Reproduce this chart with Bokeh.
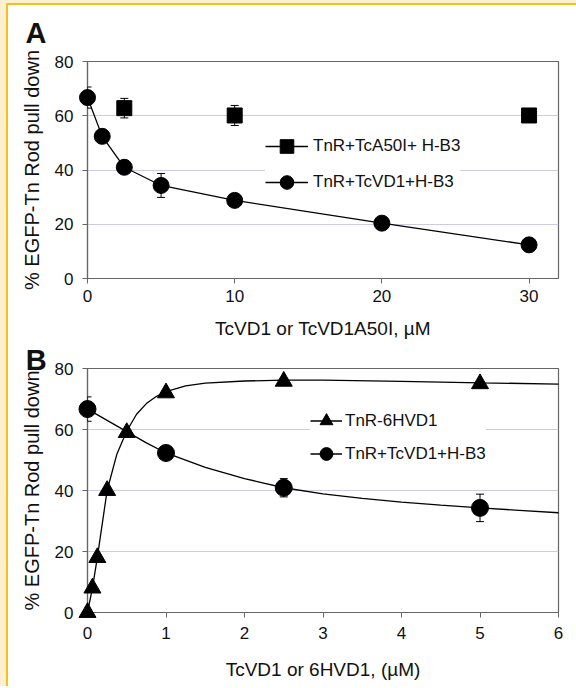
from bokeh.plotting import figure
from bokeh.models import (ColumnDataSource, Whisker, TeeHead, Legend, LegendItem,
                          Range1d, FixedTicker, Div)
from bokeh.layouts import column, row
from bokeh.core.properties import value
from bokeh.embed import file_html
from bokeh.resources import INLINE

# ---------------- data: panel A ----------------
a_xticks = [0, 10, 20, 30]
a_yticks = [0, 20, 40, 60, 80]
a_vd1_x = [0, 1, 2.5, 5, 10, 20, 30]
a_vd1_y = [66.7, 52.4, 41.0, 34.3, 28.8, 20.4, 12.4]
a_vd1_err = [3.9, 1.0, 1.2, 4.4, 1.0, 0.8, 0.8]
a_a50i_x = [2.5, 10, 30]
a_a50i_y = [62.8, 60.1, 60.1]
a_a50i_err = [3.6, 3.7, 1.5]

# ---------------- data: panel B ----------------
b_xticks = [0, 1, 2, 3, 4, 5, 6]
b_yticks = [0, 20, 40, 60, 80]
b_6h_x = [0, 0.0625, 0.125, 0.25, 0.5, 1, 2.5, 5]
b_6h_y = [0, 8, 18, 40, 59, 72, 75.8, 75]
b_vd1_x = [0, 1, 2.5, 5]
b_vd1_y = [66.7, 52.3, 40.9, 34.3]
b_vd1_err = [4.0, 1.0, 3.0, 4.5]
# fitted curves
b_6h_fit_x = [0, 0.0625, 0.125, 0.25, 0.375, 0.5, 0.625, 0.75, 0.875, 1, 1.25, 1.5, 2, 2.5, 3, 4, 5, 6]
b_6h_fit_y = [0, 8, 18, 40, 52, 59.5, 65, 68.5, 70.8, 72.4, 74.3, 75.2, 75.9, 76.2, 76.2, 75.8, 75.3, 74.9]
b_vd1_fit_x = [0, 0.25, 0.5, 0.75, 1, 1.5, 2, 2.5, 3, 3.5, 4, 4.5, 5, 5.5, 6]
b_vd1_fit_y = [66.7, 63.0, 59.3, 55.6, 52.3, 47.6, 43.9, 40.9, 38.9, 37.4, 36.2, 35.2, 34.3, 33.5, 32.7]

label_sq = "TnR+TcA50I+ H-B3"
label_circ = "TnR+TcVD1+H-B3"
label_tri = "TnR-6HVD1"

FONT = "Liberation Sans"
GOLD = "#F5C21B"
CREAM = "#FDF0D2"
GRID = "#CBCBE4"
AXIS = "#666666"
INK = "#111111"

# frame geometry in page pixels (used only to place the panel letters)
A_FRAME = dict(left=87, right=558, top=61, bottom=278, x0=0, x1=32, y0=0, y1=80)
B_FRAME = dict(left=87, right=559, top=368, bottom=612, x0=0, x1=6, y0=0, y1=80)


def px2data(f, px, py):
    x = f["x0"] + (px - f["left"]) * (f["x1"] - f["x0"]) / (f["right"] - f["left"])
    y = f["y0"] + (f["bottom"] - py) * (f["y1"] - f["y0"]) / (f["bottom"] - f["top"])
    return x, y


def style(p, xticks, yticks, xlabel, ylabel):
    p.outline_line_color = AXIS
    p.outline_line_width = 1.2
    p.background_fill_color = "white"
    p.border_fill_color = "white"
    p.xgrid.grid_line_color = None
    p.ygrid.grid_line_color = GRID
    p.ygrid.grid_line_width = 1.2
    p.ygrid.ticker = FixedTicker(ticks=yticks)
    p.xaxis.ticker = FixedTicker(ticks=xticks)
    p.yaxis.ticker = FixedTicker(ticks=yticks)
    p.xaxis.axis_label = xlabel
    p.yaxis.axis_label = ylabel
    for ax in (p.xaxis[0], p.yaxis[0]):
        ax.axis_line_color = AXIS
        ax.axis_line_width = 1.2
        ax.major_tick_line_color = AXIS
        ax.major_tick_in = 0
        ax.major_tick_out = 5
        ax.minor_tick_line_color = None
        ax.major_label_text_font = FONT
        ax.major_label_text_font_size = "17px"
        ax.major_label_text_color = INK
        ax.axis_label_text_font = FONT
        ax.axis_label_text_font_style = "normal"
        ax.axis_label_text_color = INK
    p.xaxis.axis_label_text_font_size = "19px"
    p.yaxis.axis_label_text_font_size = "20px"
    p.yaxis.major_label_standoff = 9
    p.yaxis.axis_label_standoff = 9


def panel_letter(p, f, letter, px, py):
    x, y = px2data(f, px, py)
    p.text(x=[x], y=[y], text=[letter], text_font=value(FONT), text_font_size=value("29px"),
           text_font_style="bold", text_color=INK, text_baseline="alphabetic",
           text_align="left", level="overlay")


def whisker(p, xs, ys, errs):
    src = ColumnDataSource(dict(x=xs, upper=[y + e for y, e in zip(ys, errs)],
                                lower=[y - e for y, e in zip(ys, errs)]))
    w = Whisker(base="x", upper="upper", lower="lower", source=src,
                line_color="black", line_width=1, level="annotation",
                upper_head=TeeHead(size=8, line_color="black", line_width=1),
                lower_head=TeeHead(size=8, line_color="black", line_width=1))
    p.add_layout(w)


def strip(w, h, color):
    return Div(text="", width=w, height=h, margin=0,
               styles={"background-color": color, "padding": "0", "margin": "0"})


# ---------------- panel A (page x 8..576, y 5..342) ----------------
pA = figure(width=568, height=337, x_range=Range1d(0, 32), y_range=Range1d(0, 80),
            output_backend="svg", toolbar_location=None, margin=0,
            min_border_left=79, min_border_right=18, min_border_top=56, min_border_bottom=64)
style(pA, a_xticks, a_yticks, "TcVD1 or TcVD1A50I, \u00b5M", "% EGFP-Tn Rod pull down")
pA.xaxis.major_label_standoff = 6
pA.xaxis.axis_label_standoff = 13

whisker(pA, a_vd1_x, a_vd1_y, a_vd1_err)
whisker(pA, a_a50i_x, a_a50i_y, a_a50i_err)

sq_line = pA.line(a_a50i_x, a_a50i_y, line_color="black", line_width=1.5, visible=False)
vd1_line = pA.line(a_vd1_x, a_vd1_y, line_color="black", line_width=1.3, level="overlay")
sq_pts = pA.scatter(a_a50i_x, a_a50i_y, marker="square", size=15, fill_color="black",
                    line_color="black", level="overlay")
vd1_pts = pA.scatter(a_vd1_x, a_vd1_y, marker="circle", size=16, fill_color="black",
                     line_color="black", level="overlay")

legA = Legend(items=[LegendItem(label=label_sq, renderers=[sq_line, sq_pts]),
                     LegendItem(label=label_circ, renderers=[vd1_line, vd1_pts])],
              location=(178, 79), padding=8, spacing=2, margin=0,
              glyph_width=43, glyph_height=34, label_height=20, label_standoff=5,
              label_text_font=FONT, label_text_font_size="17px", label_text_color=INK,
              border_line_color=None, background_fill_color="white", background_fill_alpha=1)
pA.add_layout(legA)
panel_letter(pA, A_FRAME, "A", 25, 32)

# ---------------- panel B (page x 8..576, y 342..686) ----------------
pB = figure(width=568, height=344, x_range=Range1d(0, 6), y_range=Range1d(0, 80),
            output_backend="svg", toolbar_location=None, margin=0,
            min_border_left=79, min_border_right=17, min_border_top=26, min_border_bottom=74)
style(pB, b_xticks, b_yticks, "TcVD1 or 6HVD1, (\u00b5M)", "% EGFP-Tn Rod pull down")
pB.xaxis.major_label_standoff = 9
pB.xaxis.axis_label_standoff = 17

whisker(pB, b_vd1_x, b_vd1_y, b_vd1_err)

tri_line = pB.line(b_6h_fit_x, b_6h_fit_y, line_color="black", line_width=1.3, level="overlay")
vdb_line = pB.line(b_vd1_fit_x, b_vd1_fit_y, line_color="black", line_width=1.3, level="overlay")
tri_pts = pB.scatter(b_6h_x, b_6h_y, marker="triangle", size=17, fill_color="black",
                     line_color="black", level="overlay")
vdb_pts = pB.scatter(b_vd1_x, b_vd1_y, marker="circle", size=17, fill_color="black",
                     line_color="black", level="overlay")

legB = Legend(items=[LegendItem(label=label_tri, renderers=[tri_line, tri_pts]),
                     LegendItem(label=label_circ, renderers=[vdb_line, vdb_pts])],
              location=(223, 142), padding=18, spacing=0, margin=0,
              glyph_width=32, glyph_height=33, label_height=20, label_standoff=3,
              label_text_font=FONT, label_text_font_size="17px", label_text_color=INK,
              border_line_color=None, background_fill_color="white", background_fill_alpha=1)
pB.add_layout(legB)
panel_letter(pB, B_FRAME, "B", 25, 359)

# ---------------- page border (cream band + gold rule, left and top) ----------------
top1 = strip(576, 3, CREAM)
top2 = row(strip(6, 2, CREAM), strip(570, 2, GOLD), spacing=0)
body = row(strip(6, 681, CREAM), strip(2, 681, GOLD), column(pA, pB, spacing=0), spacing=0)
layout = column(top1, top2, body, spacing=0)

open("out.html", "w").write(file_html(layout, INLINE))
